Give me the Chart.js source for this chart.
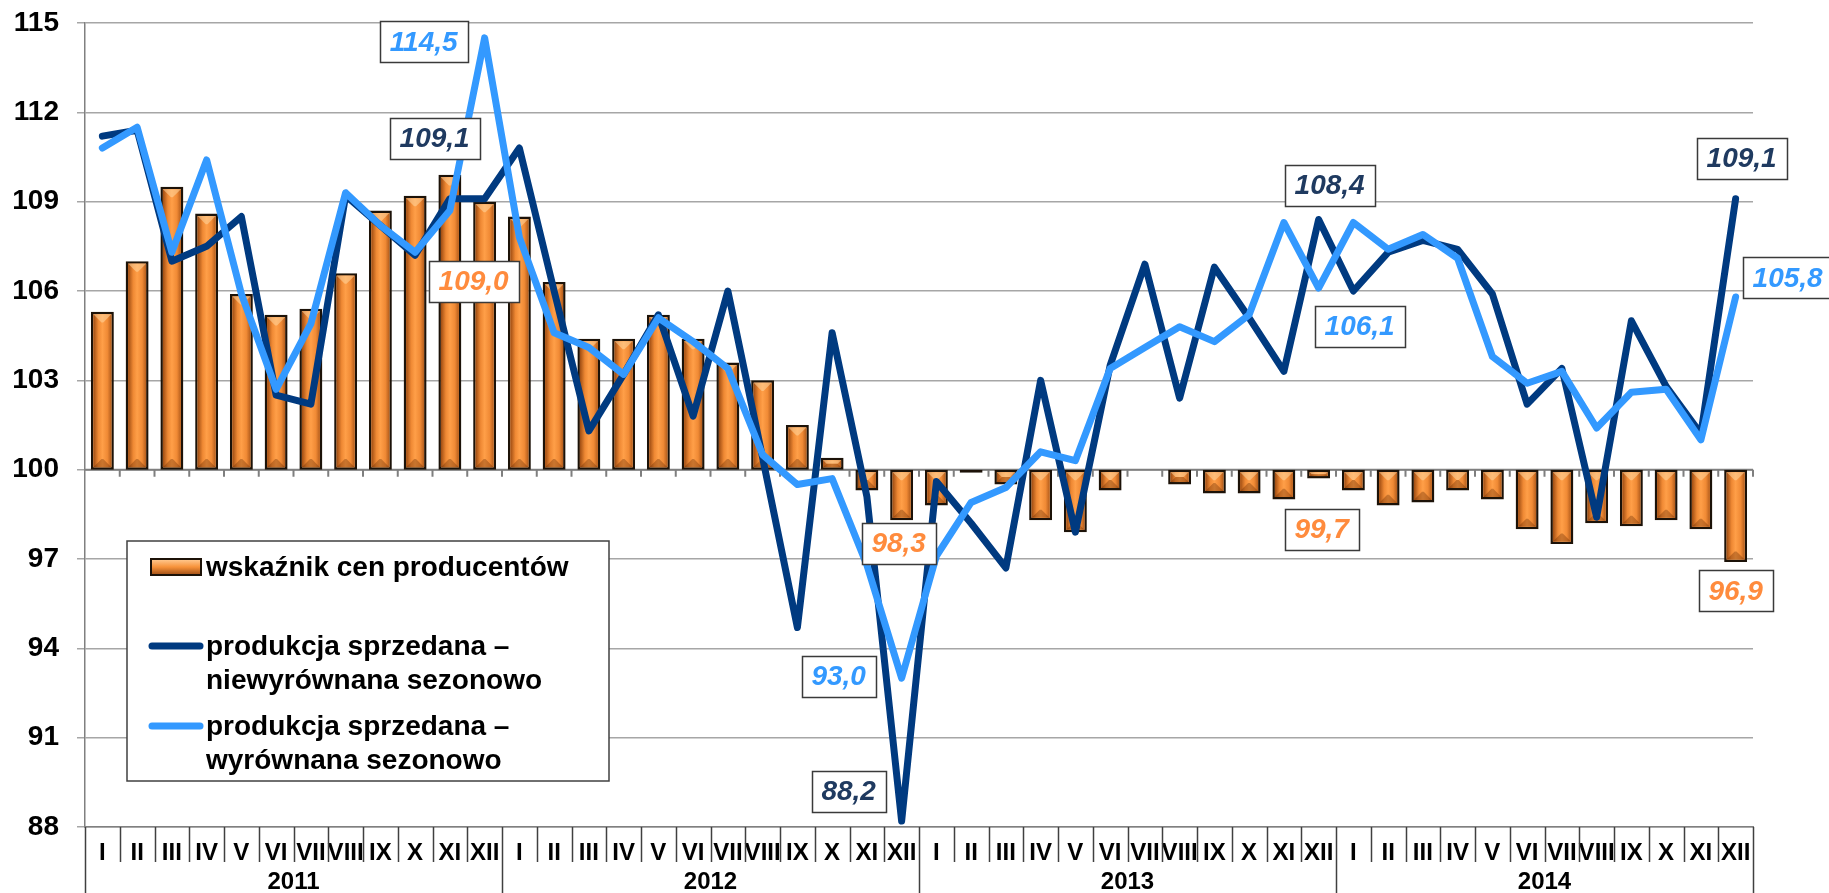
<!DOCTYPE html>
<html lang="pl">
<head>
<meta charset="utf-8">
<title>Produkcja sprzedana przemysłu i ceny producentów</title>
<script src="https://cdn.jsdelivr.net/npm/chart.js@4.4.1/dist/chart.umd.min.js"></script>
<style>
  html, body { margin: 0; padding: 0; background: #fff; }
  #wykres { display: block; }
</style>
</head>
<body>
<canvas id="wykres" width="1829" height="893"></canvas>
<script>
const miesiace = ["I", "II", "III", "IV", "V", "VI", "VII", "VIII", "IX", "X", "XI", "XII"];
const lata = ["2011", "2012", "2013", "2014"];
const osY = [88, 91, 94, 97, 100, 103, 106, 109, 112, 115];

const cenyProducentow = [
  105.3, 107.0, 109.5, 108.6, 105.9, 105.2, 105.4, 106.6, 108.7, 109.2, 109.9, 109.0,
  108.5, 106.3, 104.4, 104.4, 105.2, 104.4, 103.6, 103.0, 101.5, 100.4, 99.3, 98.3,
  98.8, 99.9, 99.5, 98.3, 97.9, 99.3, 100.0, 99.5, 99.2, 99.2, 99.0, 99.7,
  99.3, 98.8, 98.9, 99.3, 99.0, 98.0, 97.5, 98.2, 98.1, 98.3, 98.0, 96.9
];
const niewyrownana = [
  111.2, 111.4, 107.0, 107.5, 108.5, 102.5, 102.2, 109.2, 108.2, 107.2, 109.1, 109.1,
  110.8, 106.0, 101.3, 103.2, 105.2, 101.8, 106.0, 100.4, 94.7, 104.6, 99.1, 88.2,
  99.6, 98.2, 96.7, 103.0, 97.9, 103.5, 106.9, 102.4, 106.8, 105.1, 103.3, 108.4,
  106.0, 107.3, 107.7, 107.4, 105.9, 102.2, 103.4, 98.4, 105.0, 102.8, 101.2, 109.1
];
const wyrownana = [
  110.8, 111.5, 107.3, 110.4, 105.9, 102.7, 104.9, 109.3, 108.2, 107.3, 108.7, 114.5,
  107.8, 104.6, 104.1, 103.2, 105.1, 104.3, 103.4, 100.5, 99.5, 99.7, 96.8, 93.0,
  97.1, 98.9, 99.4, 100.6, 100.3, 103.4, 104.1, 104.8, 104.3, 105.2, 108.3, 106.1,
  108.3, 107.4, 107.9, 107.1, 103.8, 102.9, 103.3, 101.4, 102.6, 102.7, 101.0, 105.8
];

const etykiety = lata.flatMap(() => miesiace);
const serie = [cenyProducentow, niewyrownana, wyrownana];

const POMARANCZ = "#F7923A";
const GRANAT = "#003A80";
const BLEKIT = "#3399FF";
const CZCIONKA = '"Liberation Sans", Arial, sans-serif';

// ramki z wartościami: seria, miesiąc, przesunięcie środka ramki od punktu
const podpisy = [
  { seria: 2, idx: 11, dx: -61, dy: 4, kolor: BLEKIT },
  { seria: 1, idx: 11, dx: -50, dy: -60, kolor: "#1F3A60" },
  { seria: 0, idx: 11, dx: -11, dy: 80, kolor: "#FF8B3D" },
  { seria: 0, idx: 23, dx: -3, dy: 23, kolor: "#FF8B3D" },
  { seria: 2, idx: 23, dx: -63, dy: -2, kolor: BLEKIT },
  { seria: 1, idx: 23, dx: -53, dy: -30, kolor: "#1F3A60" },
  { seria: 1, idx: 35, dx: 11, dy: -34, kolor: "#1F3A60" },
  { seria: 2, idx: 35, dx: 41, dy: 38, kolor: BLEKIT },
  { seria: 0, idx: 35, dx: 3, dy: 51, kolor: "#FF8B3D" },
  { seria: 1, idx: 47, dx: 6, dy: -40, kolor: "#1F3A60" },
  { seria: 2, idx: 47, dx: 52, dy: -19, kolor: BLEKIT },
  { seria: 0, idx: 47, dx: 0, dy: 29, kolor: "#FF8B3D" }
];

function wielokat(ctx, pkt) {
  ctx.beginPath();
  ctx.moveTo(pkt[0][0], pkt[0][1]);
  pkt.slice(1).forEach(p => ctx.lineTo(p[0], p[1]));
  ctx.closePath();
  ctx.fill();
}

// efekt "fazowanego" słupka jak w Excelu
function cieniujSlupek(ctx, l, t, r, b) {
  const w = r - l, h = b - t;
  if (w <= 0 || h <= 0) return;
  const g = ctx.createLinearGradient(l, 0, r, 0);
  g.addColorStop(0, "#9e4c12");
  g.addColorStop(0.28, "#ef8934");
  g.addColorStop(0.5, "#ff9f48");
  g.addColorStop(0.78, "#f08a35");
  g.addColorStop(1, "#b45d1c");
  ctx.fillStyle = g;
  ctx.fillRect(l, t, w, h);
  const s = Math.min(w * 0.45, h / 2);
  ctx.fillStyle = "rgba(255,215,160,0.55)";
  wielokat(ctx, [[l, t], [r, t], [r - s, t + s], [l + s, t + s]]);
  ctx.fillStyle = "rgba(100,40,0,0.35)";
  wielokat(ctx, [[l, b], [r, b], [r - s, b - s], [l + s, b - s]]);
}

const fazowanie = {
  id: "fazowanie",
  afterDatasetDraw(chart, args) {
    if (args.index !== 0) return;
    const ctx = chart.ctx;
    const bw = 2.5;
    ctx.save();
    args.meta.data.forEach(el => {
      const p = el.getProps(["x", "y", "base", "width"], true);
      const t = Math.min(p.y, p.base), b = Math.max(p.y, p.base);
      cieniujSlupek(ctx, p.x - p.width / 2 + bw, t + bw, p.x + p.width / 2 - bw, b - bw);
    });
    ctx.restore();
  }
};

// oś pozioma przecina oś Y na poziomie 100
const linia100 = {
  id: "linia100",
  beforeDatasetsDraw(chart) {
    const { ctx, chartArea: a, scales: { x, y } } = chart;
    const y0 = y.getPixelForValue(100);
    const krok = x.getPixelForValue(1) - x.getPixelForValue(0);
    ctx.save();
    ctx.strokeStyle = "#7f7f7f";
    ctx.lineWidth = 2;
    ctx.beginPath();
    ctx.moveTo(a.left, y0);
    ctx.lineTo(a.right, y0);
    for (let i = 1; i <= etykiety.length; i++) {
      const px = x.getPixelForValue(i) - krok / 2;
      ctx.moveTo(px, y0);
      ctx.lineTo(px, y0 + 7);
    }
    ctx.stroke();
    ctx.restore();
  }
};

// tabelka pod osią: separatory miesięcy i lata
const tabelaOsi = {
  id: "tabelaOsi",
  afterDraw(chart) {
    const { ctx, chartArea: a, scales: { x } } = chart;
    const krok = x.getPixelForValue(1) - x.getPixelForValue(0);
    ctx.save();
    ctx.strokeStyle = "#404040";
    ctx.lineWidth = 1.5;
    ctx.beginPath();
    for (let i = 0; i <= etykiety.length; i++) {
      const px = Math.round(x.getPixelForValue(i) - krok / 2) + 0.5;
      ctx.moveTo(px, a.bottom);
      ctx.lineTo(px, i % 12 === 0 ? chart.height : a.bottom + 35);
    }
    ctx.stroke();
    ctx.fillStyle = "#000";
    ctx.font = "bold 24px " + CZCIONKA;
    ctx.textAlign = "center";
    ctx.textBaseline = "middle";
    lata.forEach((rok, j) => {
      const px = (x.getPixelForValue(j * 12) + x.getPixelForValue(j * 12 + 11)) / 2;
      ctx.fillText(rok, px, a.bottom + 55);
    });
    ctx.restore();
  }
};

const legenda = {
  id: "legenda",
  afterDraw(chart) {
    const ctx = chart.ctx;
    const bx = 127, by = 541, bw = 482, bh = 240;
    ctx.save();
    ctx.fillStyle = "#fff";
    ctx.fillRect(bx, by, bw, bh);
    ctx.strokeStyle = "#404040";
    ctx.lineWidth = 1.5;
    ctx.strokeRect(bx, by, bw, bh);

    ctx.font = "bold 28px " + CZCIONKA;
    ctx.textAlign = "left";
    ctx.textBaseline = "middle";

    const ds = chart.data.datasets;
    // słupek
    ctx.fillStyle = "#1c1208";
    ctx.fillRect(150, 558, 52, 18);
    const g = ctx.createLinearGradient(0, 560, 0, 574);
    g.addColorStop(0, "#ffc58a");
    g.addColorStop(0.5, POMARANCZ);
    g.addColorStop(1, "#a9561a");
    ctx.fillStyle = g;
    ctx.fillRect(152, 560, 48, 14);
    ctx.fillStyle = "#000";
    ctx.fillText(ds[0].label, 206, 568);

    // linie
    [[1, 646], [2, 726]].forEach(([i, yy]) => {
      ctx.strokeStyle = ds[i].borderColor;
      ctx.lineWidth = 7;
      ctx.lineCap = "round";
      ctx.beginPath();
      ctx.moveTo(152, yy);
      ctx.lineTo(200, yy);
      ctx.stroke();
      const czesci = ds[i].label.split("– ");
      ctx.fillText(czesci[0] + "–", 206, yy + 1);
      ctx.fillText(czesci[1], 206, yy + 35);
    });
    ctx.restore();
  }
};

const ramki = {
  id: "ramki",
  afterDraw(chart) {
    const ctx = chart.ctx;
    const y = chart.scales.y;
    ctx.save();
    ctx.font = "italic bold 28px " + CZCIONKA;
    ctx.textAlign = "center";
    ctx.textBaseline = "middle";
    podpisy.forEach(p => {
      const el = chart.getDatasetMeta(p.seria).data[p.idx];
      const v = serie[p.seria][p.idx];
      const tekst = v.toFixed(1).replace(".", ",");
      const cx = el.x + p.dx;
      const cy = y.getPixelForValue(v) + p.dy;
      const w = Math.round(ctx.measureText(tekst).width + 20), h = 41;
      const l = Math.round(cx - w / 2) + 0.5, t = Math.round(cy - h / 2) + 0.5;
      ctx.fillStyle = "#fff";
      ctx.fillRect(l, t, w, h);
      ctx.strokeStyle = "#3a3a3a";
      ctx.lineWidth = 1.5;
      ctx.strokeRect(l, t, w, h);
      ctx.fillStyle = p.kolor;
      ctx.fillText(tekst, cx, cy + 1);
    });
    ctx.restore();
  }
};

Chart.defaults.font.family = CZCIONKA;

new Chart(document.getElementById("wykres"), {
  data: {
    labels: etykiety,
    datasets: [
      {
        type: "bar",
        label: "wskaźnik cen producentów",
        data: cenyProducentow.map(v => [100, v]),
        backgroundColor: POMARANCZ,
        borderColor: "#1c1208",
        borderWidth: 2.5,
        borderSkipped: false,
        barPercentage: 0.66,
        categoryPercentage: 1,
        order: 3
      },
      {
        type: "line",
        label: "produkcja sprzedana – niewyrównana sezonowo",
        data: niewyrownana,
        borderColor: GRANAT,
        borderWidth: 7,
        borderJoinStyle: "round",
        borderCapStyle: "round",
        pointRadius: 0,
        tension: 0,
        order: 2
      },
      {
        type: "line",
        label: "produkcja sprzedana – wyrównana sezonowo",
        data: wyrownana,
        borderColor: BLEKIT,
        borderWidth: 7,
        borderJoinStyle: "round",
        borderCapStyle: "round",
        pointRadius: 0,
        tension: 0,
        order: 1
      }
    ]
  },
  options: {
    responsive: false,
    animation: false,
    devicePixelRatio: 1,
    events: [],
    layout: { padding: { top: 23, right: 76, left: 0, bottom: 0 } },
    plugins: {
      legend: { display: false },
      tooltip: { enabled: false }
    },
    scales: {
      x: {
        type: "category",
        offset: true,
        grid: { display: false },
        border: { display: true, color: "#808080", width: 1.5 },
        ticks: {
          color: "#000",
          font: { size: 24, weight: "bold" },
          padding: 4,
          autoSkip: false,
          maxRotation: 0,
          minRotation: 0
        },
        afterFit(scale) {
          scale.height = 66;
          scale.paddingLeft = 0;
          scale.paddingRight = 0;
        }
      },
      y: {
        min: osY[0],
        max: osY[osY.length - 1],
        afterBuildTicks(scale) { scale.ticks = osY.map(v => ({ value: v })); },
        grid: { color: "#a6a6a6", lineWidth: 1.5, tickLength: 8 },
        border: { display: true, color: "#808080", width: 1.5 },
        ticks: {
          color: "#000",
          font: { size: 28, weight: "bold" },
          padding: 18
        },
        afterFit(scale) {
          scale.width = 85;
          scale.paddingTop = 0;
          scale.paddingBottom = 0;
        }
      }
    }
  },
  plugins: [linia100, fazowanie, tabelaOsi, legenda, ramki]
});
</script>
</body>
</html>
